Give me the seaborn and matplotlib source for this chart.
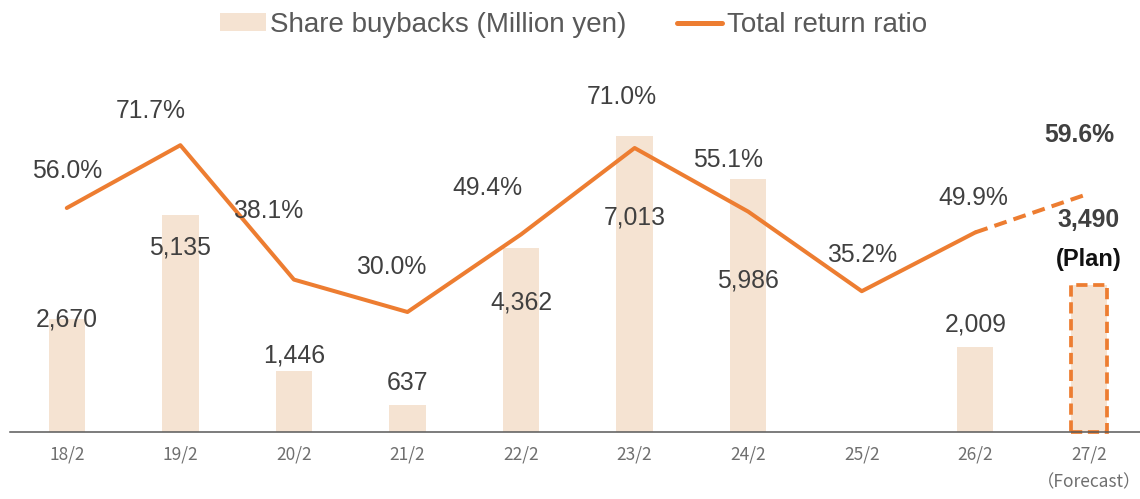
import numpy as np
import pandas as pd
import matplotlib.pyplot as plt
import seaborn as sns
from matplotlib.patches import Patch
from matplotlib.lines import Line2D

sns.set_theme(style='white')
plt.rcParams['font.family'] = ['Liberation Sans', 'DejaVu Sans']

# data
periods = ['18/2', '19/2', '20/2', '21/2', '22/2', '23/2', '24/2', '25/2', '26/2', '27/2']
tick_labels = ['18/2', '19/2', '20/2', '21/2', '22/2', '23/2', '24/2', '25/2', '26/2', '27/2\n（Forecast）']
buybacks = [2670, 5135, 1446, 637, 4362, 7013, 5986, 0, 2009, 3490]
buyback_text = ['2,670', '5,135', '1,446', '637', '4,362', '7,013', '5,986', '', '2,009', '3,490']
return_ratio = [56.0, 71.7, 38.1, 30.0, 49.4, 71.0, 55.1, 35.2, 49.9, 59.6]
ratio_text = ['56.0%', '71.7%', '38.1%', '30.0%', '49.4%', '71.0%', '55.1%', '35.2%', '49.9%', '59.6%']

# label offsets in pixels (placed by hand to avoid the line)
bar_dy = [0, -32, 15, 22, -55, -81, -101, 0, 23, 65]
ratio_dx = [0, -30, -26, -16, -34, -13, -20, 0, -2, -10]
ratio_dy = [37, 34, 69, 45, 46, 51, 52, 36, 34, 59]

bar_color = '#F5E3D2'
orange = '#ED7D31'
text_color = '#404040'

df = pd.DataFrame({'period': periods, 'buybacks': buybacks})
pos = np.arange(len(periods))

fig = plt.figure(figsize=(11.4, 4.99), dpi=100)
ax = fig.add_axes([10 / 1140, 67 / 499, 1130 / 1140, 372 / 499])

sns.barplot(data=df, x='period', y='buybacks', color=bar_color, saturation=1,
            width=0.32, linewidth=0, errorbar=None, ax=ax)

# forecast bar gets a dashed orange outline
plan_bar = ax.patches[-1]
plan_bar.set_edgecolor(orange)
plan_bar.set_linewidth(2.7)
plan_bar.set_linestyle((0, (3.0, 1.5)))
plan_bar.set_clip_on(False)

ax.set_xlim(-0.5, 9.45)
ax.set_ylim(0, 8815)

ax2 = ax.twinx()
sns.lineplot(x=pos[:9], y=return_ratio[:9], color=orange, linewidth=2.9, ax=ax2)
sns.lineplot(x=pos[8:], y=return_ratio[8:], color=orange, linewidth=2.9, ax=ax2)
ax2.lines[-1].set_dashes([3.2, 1.8])
ax2.lines[-1].set_dash_capstyle('butt')
ax2.set_ylim(0, 93)
ax2.set_xlim(-0.5, 9.45)

# bar labels
for i, v in enumerate(buybacks):
    if not buyback_text[i]:
        continue
    bold = i == len(buybacks) - 1
    ax.annotate(buyback_text[i], (pos[i], v), xytext=(0, bar_dy[i]), textcoords='offset pixels',
                ha='center', va='center', fontsize=17.8, color=text_color,
                fontweight='bold' if bold else 'normal')
ax.annotate('(Plan)', (pos[-1], buybacks[-1]), xytext=(0, 25), textcoords='offset pixels',
            ha='center', va='center', fontsize=17, color='#111111', fontweight='bold')

# ratio labels
for i, v in enumerate(return_ratio):
    bold = i == len(return_ratio) - 1
    ax2.annotate(ratio_text[i], (pos[i], v), xytext=(ratio_dx[i], ratio_dy[i]),
                 textcoords='offset pixels', ha='center', va='center', fontsize=17.8,
                 color=text_color, fontweight='bold' if bold else 'normal')

ax.set_xticks(pos)
ax.set_xticklabels(tick_labels, fontsize=12.5, color='#6F6F6F', linespacing=1.65,
                   family=['Noto Sans CJK JP', 'DejaVu Sans'])
ax.tick_params(axis='x', length=0, pad=10)
ax.set_yticks([])
ax2.set_yticks([])
ax.set_xlabel('')
ax.set_ylabel('')
ax2.set_ylabel('')

for a in (ax, ax2):
    for s in ['top', 'left', 'right', 'bottom']:
        a.spines[s].set_visible(False)
ax.spines['bottom'].set_visible(True)
ax.spines['bottom'].set_color('#595959')
ax.spines['bottom'].set_linewidth(1.1)

handles = [Patch(facecolor=bar_color, edgecolor='none'),
           Line2D([], [], color=orange, linewidth=3.6, solid_capstyle='round')]
fig.legend(handles, ['Share buybacks (Million yen)', 'Total return ratio'],
           loc='center', bbox_to_anchor=(0.503, 0.95), ncol=2, frameon=False,
           fontsize=20, labelcolor='#595959', handlelength=1.65, handleheight=0.6,
           handletextpad=0.15, columnspacing=1.8)

fig.savefig('out.png', dpi=100)
